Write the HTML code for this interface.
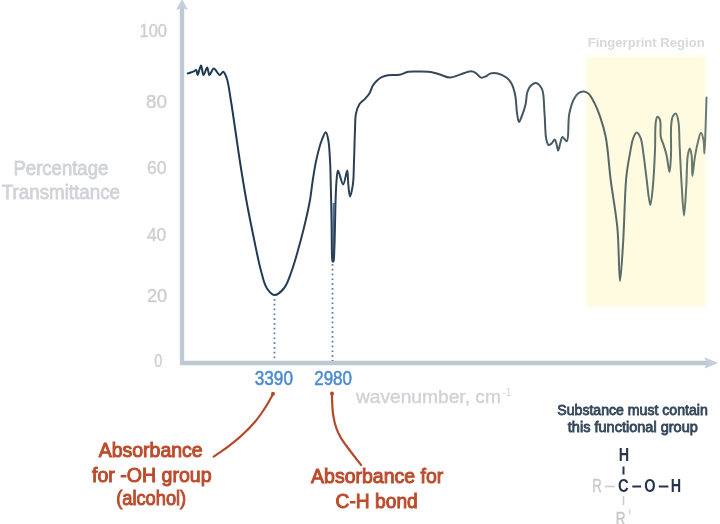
<!DOCTYPE html>
<html><head><meta charset="utf-8">
<style>
html,body{margin:0;padding:0;background:#fff;}
body{width:720px;height:524px;overflow:hidden;position:relative;}
svg{position:absolute;left:0;top:0;filter:blur(0.35px);}
text{font-family:"Liberation Sans",sans-serif;}
</style></head><body>
<svg width="720" height="524" viewBox="0 0 720 524">
<defs>
<linearGradient id="cg" x1="188" y1="0" x2="707" y2="0" gradientUnits="userSpaceOnUse">
<stop offset="0" stop-color="#1c3554"/>
<stop offset="0.2" stop-color="#263c54"/>
<stop offset="0.4" stop-color="#304357"/>
<stop offset="0.7" stop-color="#475962"/>
<stop offset="0.85" stop-color="#5b6c68"/>
<stop offset="1" stop-color="#6b7b70"/>
</linearGradient>
</defs>
<!-- fingerprint box -->
<filter id="bl" x="-10%" y="-10%" width="120%" height="120%"><feGaussianBlur stdDeviation="2.2"/></filter>
<rect x="586" y="56" width="119.8" height="251" fill="#fefbe0" filter="url(#bl)"/>
<text x="587.7" y="47.2" font-size="13.2" font-weight="bold" fill="#d6d9dc" textLength="117" lengthAdjust="spacingAndGlyphs">Fingerprint Region</text>
<!-- axes -->
<line x1="182" y1="6" x2="182" y2="363" stroke="#bfc9d4" stroke-width="4.4"/>
<polygon points="182,-1 176,10 182,8 188,10" fill="#c5cfda"/>
<line x1="180" y1="363" x2="710" y2="363" stroke="#bfc9d4" stroke-width="4.4"/>
<polygon points="717,363 705,358 707.5,363 705,368" fill="#c5cfda" stroke="#c5cfda" stroke-width="1" stroke-linejoin="round"/>
<!-- y labels -->
<g fill="#cfcfcf" font-size="19" stroke="#cfcfcf" stroke-width="0.45">
<text x="139.5" y="36.7" textLength="27.5" lengthAdjust="spacingAndGlyphs">100</text>
<text x="146" y="107.5" textLength="21" lengthAdjust="spacingAndGlyphs">80</text>
<text x="147" y="173.9" textLength="19.6" lengthAdjust="spacingAndGlyphs">60</text>
<text x="146.9" y="240.8" textLength="19.4" lengthAdjust="spacingAndGlyphs">40</text>
<text x="146.9" y="302.4" textLength="20.4" lengthAdjust="spacingAndGlyphs">20</text>
<text x="154.3" y="367.3" textLength="8.1" lengthAdjust="spacingAndGlyphs">0</text>
</g>
<g fill="#d0d3d8" font-size="20" stroke="#d0d3d8" stroke-width="0.8">
<text x="13.5" y="174.8" textLength="94.8" lengthAdjust="spacingAndGlyphs">Percentage</text>
<text x="1.8" y="199.2" textLength="118.2" lengthAdjust="spacingAndGlyphs">Transmittance</text>
</g>
<!-- dotted lines -->
<line x1="274.5" y1="299" x2="274.5" y2="361" stroke="#5a7ea6" stroke-width="1.8" stroke-dasharray="1.7 3.1"/>
<line x1="332.5" y1="264" x2="332.5" y2="361" stroke="#5a7ea6" stroke-width="1.8" stroke-dasharray="1.7 3.1"/>
<!-- curve -->
<polygon points="332.7,203 334.6,203 334.2,258 332.2,258" fill="#4d6f96"/>
<path d="M187.80,73.40 C189.87,72.70 192.48,72.00 194.00,71.30 C194.95,70.87 195.63,69.77 196.20,70.00 C197.01,70.32 196.99,74.98 197.60,75.00 C198.45,75.03 200.01,65.46 201.00,65.50 C201.97,65.54 202.40,74.89 203.50,75.00 C204.51,75.10 206.21,67.41 207.20,67.50 C208.16,67.58 208.30,74.83 209.40,75.00 C210.50,75.17 212.14,68.62 213.80,68.50 C215.55,68.38 217.96,74.93 219.70,75.00 C220.99,75.05 222.13,71.53 223.20,71.70 C224.51,71.90 225.67,75.15 226.70,78.00 C228.51,83.02 229.47,92.09 230.80,100.00 C232.35,109.21 233.82,120.00 235.30,130.00 C236.78,140.00 238.03,149.29 239.70,160.00 C241.63,172.38 243.89,186.69 246.30,200.00 C248.72,213.35 251.62,227.64 254.20,240.00 C256.44,250.73 258.43,261.32 260.80,270.00 C262.66,276.81 263.87,283.64 266.70,288.00 C268.79,291.23 271.61,294.84 274.40,295.00 C277.40,295.18 281.47,291.37 284.20,288.00 C287.68,283.69 289.52,276.85 292.00,270.00 C295.13,261.35 298.35,249.01 300.80,240.00 C302.79,232.68 304.26,226.68 305.80,220.00 C307.33,213.35 308.83,206.69 310.00,200.00 C311.16,193.35 311.75,186.66 312.80,180.00 C313.85,173.32 314.81,166.63 316.30,160.00 C317.80,153.30 319.83,145.05 321.80,140.00 C323.08,136.72 324.71,132.11 325.80,132.20 C326.86,132.29 327.65,136.75 328.30,140.00 C329.32,145.08 329.59,152.96 330.00,160.00 C330.46,167.86 330.56,175.69 330.80,185.00 C331.11,196.77 331.38,212.31 331.60,225.00 C331.80,236.53 331.68,252.60 332.10,258.00 C332.24,259.77 332.17,261.12 332.60,261.50 C332.81,261.68 333.17,261.71 333.40,261.50 C334.26,260.70 334.06,254.57 334.30,250.00 C334.66,243.27 334.78,233.33 335.00,225.00 C335.22,216.67 335.31,207.87 335.60,200.00 C335.86,192.96 336.06,185.41 336.60,180.00 C336.97,176.27 337.12,170.69 338.00,170.60 C339.09,170.48 341.66,184.46 343.20,184.40 C344.72,184.34 346.35,170.51 347.20,170.60 C348.03,170.68 347.81,179.97 348.30,184.40 C348.76,188.55 349.24,196.36 350.00,196.40 C350.77,196.44 352.23,189.08 352.90,184.40 C353.81,178.03 353.67,169.74 354.00,161.50 C354.39,151.84 354.59,138.81 355.00,130.00 C355.29,123.62 355.02,118.14 356.00,113.50 C356.75,109.92 357.75,106.85 359.40,104.30 C360.90,101.97 363.44,100.56 365.20,98.60 C366.86,96.75 368.47,94.98 369.70,92.90 C370.95,90.79 371.39,88.05 372.60,86.00 C373.72,84.09 375.02,82.40 376.60,80.90 C378.24,79.35 380.32,77.84 382.30,76.90 C384.13,76.03 385.75,75.66 388.00,75.30 C391.12,74.80 395.88,75.46 399.40,74.80 C402.60,74.20 405.08,72.36 408.30,71.80 C411.89,71.18 416.01,71.51 420.00,71.60 C424.17,71.69 429.17,71.77 432.80,72.40 C435.57,72.89 437.41,73.72 440.00,74.50 C443.06,75.42 446.66,77.58 450.00,77.60 C453.33,77.62 456.58,75.62 460.00,74.60 C463.60,73.52 468.23,71.25 471.10,71.30 C472.94,71.33 474.11,71.95 475.60,72.80 C477.45,73.86 479.24,77.15 481.10,77.60 C482.58,77.96 484.16,77.13 485.60,76.50 C487.14,75.83 488.23,74.16 490.00,73.60 C492.15,72.92 495.19,72.82 497.80,73.40 C500.75,74.05 504.33,75.94 506.70,77.80 C508.75,79.41 510.17,81.08 511.50,83.50 C513.24,86.67 514.39,91.23 515.30,95.70 C516.35,100.89 516.24,108.09 517.00,112.90 C517.56,116.43 518.10,121.89 519.00,122.00 C519.69,122.09 520.65,119.09 521.50,117.00 C522.82,113.77 524.63,108.51 525.60,104.30 C526.53,100.28 526.26,95.59 527.30,92.30 C528.09,89.79 528.99,87.58 530.50,86.00 C531.91,84.51 534.14,82.67 535.90,82.90 C537.95,83.17 540.45,85.88 541.90,88.90 C544.34,94.00 543.79,104.76 544.50,112.90 C545.23,121.31 545.02,132.95 546.20,138.60 C546.81,141.50 547.35,144.54 548.50,145.00 C549.31,145.32 550.56,144.26 551.50,143.50 C552.66,142.56 553.86,139.38 554.70,139.50 C555.52,139.62 555.96,142.34 556.50,144.00 C557.15,145.97 557.59,150.59 558.20,150.60 C558.85,150.61 559.54,145.37 560.30,143.00 C560.98,140.87 561.39,137.25 562.50,137.00 C563.58,136.76 565.71,141.60 566.80,141.20 C569.12,140.34 567.73,121.97 569.20,114.40 C570.31,108.64 571.81,103.30 573.70,99.50 C575.04,96.81 576.47,94.53 578.30,93.20 C579.83,92.09 581.79,91.42 583.50,91.50 C585.22,91.58 587.03,92.36 588.60,93.70 C590.79,95.58 592.61,99.44 594.40,102.90 C596.50,106.96 598.34,111.58 600.10,116.70 C602.20,122.82 604.21,129.12 605.80,137.30 C608.06,148.90 608.84,165.36 610.70,180.00 C612.68,195.54 615.85,211.57 617.40,228.00 C619.02,245.19 618.94,280.98 620.00,281.00 C620.90,281.01 622.16,257.40 623.10,243.00 C624.33,224.09 624.67,193.53 626.30,177.30 C627.27,167.67 628.54,161.35 629.80,154.40 C630.86,148.55 631.67,142.21 633.20,138.30 C634.17,135.81 635.37,132.65 636.60,132.60 C637.86,132.55 639.63,135.76 640.70,138.30 C642.33,142.18 642.62,148.55 643.50,154.40 C644.54,161.35 645.33,169.31 646.40,177.30 C647.58,186.10 649.13,205.00 650.30,205.00 C651.29,205.00 652.27,192.61 653.00,185.00 C653.96,174.97 654.53,161.02 655.00,150.00 C655.42,140.15 654.89,127.62 655.80,122.00 C656.21,119.50 656.61,116.86 657.40,116.70 C658.08,116.56 659.37,118.20 660.00,119.80 C661.29,123.11 659.91,132.40 660.80,137.00 C661.43,140.23 662.70,142.17 663.60,145.00 C664.60,148.13 665.62,151.20 666.50,155.00 C667.64,159.89 668.75,172.03 669.50,172.00 C670.25,171.97 670.69,161.47 671.00,155.00 C671.41,146.42 670.48,132.05 671.20,125.00 C671.60,121.10 671.83,117.93 673.00,116.00 C673.76,114.75 675.18,113.34 676.00,113.60 C677.26,114.00 677.90,118.67 678.50,122.30 C679.45,128.04 679.17,136.33 679.60,145.00 C680.18,156.62 680.89,173.27 681.70,185.80 C682.39,196.52 683.23,215.60 684.00,215.60 C684.77,215.60 685.67,195.80 686.30,185.80 C686.94,175.70 686.71,161.81 687.80,155.30 C688.33,152.14 689.17,148.39 689.80,148.40 C690.43,148.41 691.16,152.36 691.60,155.30 C692.34,160.31 691.84,175.87 692.40,175.90 C692.92,175.92 693.78,163.95 694.70,158.30 C695.56,153.01 696.54,147.56 697.70,143.00 C698.66,139.23 699.86,132.82 700.90,132.80 C701.78,132.78 702.91,137.18 703.50,140.00 C704.29,143.75 704.11,153.50 704.40,153.50 C704.78,153.50 705.17,138.47 705.50,130.00 C705.89,120.02 706.17,108.27 706.50,97.40" fill="none" stroke="url(#cg)" stroke-width="2" stroke-linejoin="round" stroke-linecap="round"/>
<!-- x labels -->
<g fill="#4a8ad2" font-size="20" stroke="#4a8ad2" stroke-width="0.5">
<text x="254.7" y="385" textLength="38.3" lengthAdjust="spacingAndGlyphs">3390</text>
<text x="314.2" y="385" textLength="37.8" lengthAdjust="spacingAndGlyphs">2980</text>
</g>
<text x="355.9" y="402.9" font-size="19" fill="#d0d2d6" stroke="#d0d2d6" stroke-width="0.4" textLength="145" lengthAdjust="spacingAndGlyphs">wavenumber, cm</text>
<text x="502.5" y="396.3" font-size="10.5" fill="#d3d5d9" textLength="9" lengthAdjust="spacingAndGlyphs">-1</text>
<!-- red arrows -->
<g fill="none" stroke="#b5482c" stroke-width="2.2" stroke-linecap="round">
<path d="M213.7,456.7 C230,446 250,430 261,414 C266,407 270,400 272.9,394.2"/>
<path d="M332,393.4 C332,410 333,425 341.2,438.4 C346,446 354,456 361.1,465"/>
</g>
<circle cx="273" cy="393.8" r="2" fill="#b5482c"/>
<circle cx="332" cy="393.4" r="2" fill="#b5482c"/>
<g fill="#bc4c2d" font-size="20" stroke="#bc4c2d" stroke-width="1">
<text x="98.7" y="457.2" textLength="104" lengthAdjust="spacingAndGlyphs">Absorbance</text>
<text x="92" y="481.5" textLength="119.5" lengthAdjust="spacingAndGlyphs">for -OH group</text>
<text x="116.2" y="505" textLength="70" lengthAdjust="spacingAndGlyphs">(alcohol)</text>
<text x="311.1" y="483.4" textLength="132.2" lengthAdjust="spacingAndGlyphs">Absorbance for</text>
<text x="335.6" y="507.9" textLength="82.2" lengthAdjust="spacingAndGlyphs">C-H bond</text>
</g>
<!-- substance text -->
<g fill="#34475b" font-size="14.5" stroke="#34475b" stroke-width="0.8">
<text x="557.3" y="414.6" textLength="150.5" lengthAdjust="spacingAndGlyphs">Substance must contain</text>
<text x="567.8" y="431.7" textLength="130" lengthAdjust="spacingAndGlyphs">this functional group</text>
</g>
<!-- structure -->
<g fill="#24344c" font-size="18" font-weight="bold">
<text x="618.7" y="461.2" textLength="10.4" lengthAdjust="spacingAndGlyphs">H</text>
<text x="617.9" y="492.1" textLength="10.7" lengthAdjust="spacingAndGlyphs">C</text>
<text x="644.3" y="492.1" textLength="11.3" lengthAdjust="spacingAndGlyphs">O</text>
<text x="670.8" y="492.1" textLength="10.4" lengthAdjust="spacingAndGlyphs">H</text>
</g>
<g stroke="#24344c" stroke-width="2">
<line x1="623.5" y1="466.5" x2="623.5" y2="474.5"/>
<line x1="632.3" y1="486.5" x2="641.1" y2="486.5"/>
<line x1="658.8" y1="486.5" x2="668.4" y2="486.5"/>
</g>
<g stroke="#cccccc" stroke-width="1.6">
<line x1="605" y1="486.5" x2="614.7" y2="486.5"/>
<line x1="623.5" y1="496" x2="623.5" y2="505"/>
</g>
<g fill="#c9c9c9" font-size="18">
<text x="592.2" y="492.1" textLength="9.6" lengthAdjust="spacingAndGlyphs" stroke="#c9c9c9" stroke-width="0.4">R</text>
<text x="615.8" y="524.5" font-size="19" textLength="9.8" lengthAdjust="spacingAndGlyphs" stroke="#c9c9c9" stroke-width="0.5">R</text>
<line x1="629.8" y1="509" x2="629.8" y2="514.5" stroke="#cfcfcf" stroke-width="1.2"/>
</g>
</svg>
</body></html>
